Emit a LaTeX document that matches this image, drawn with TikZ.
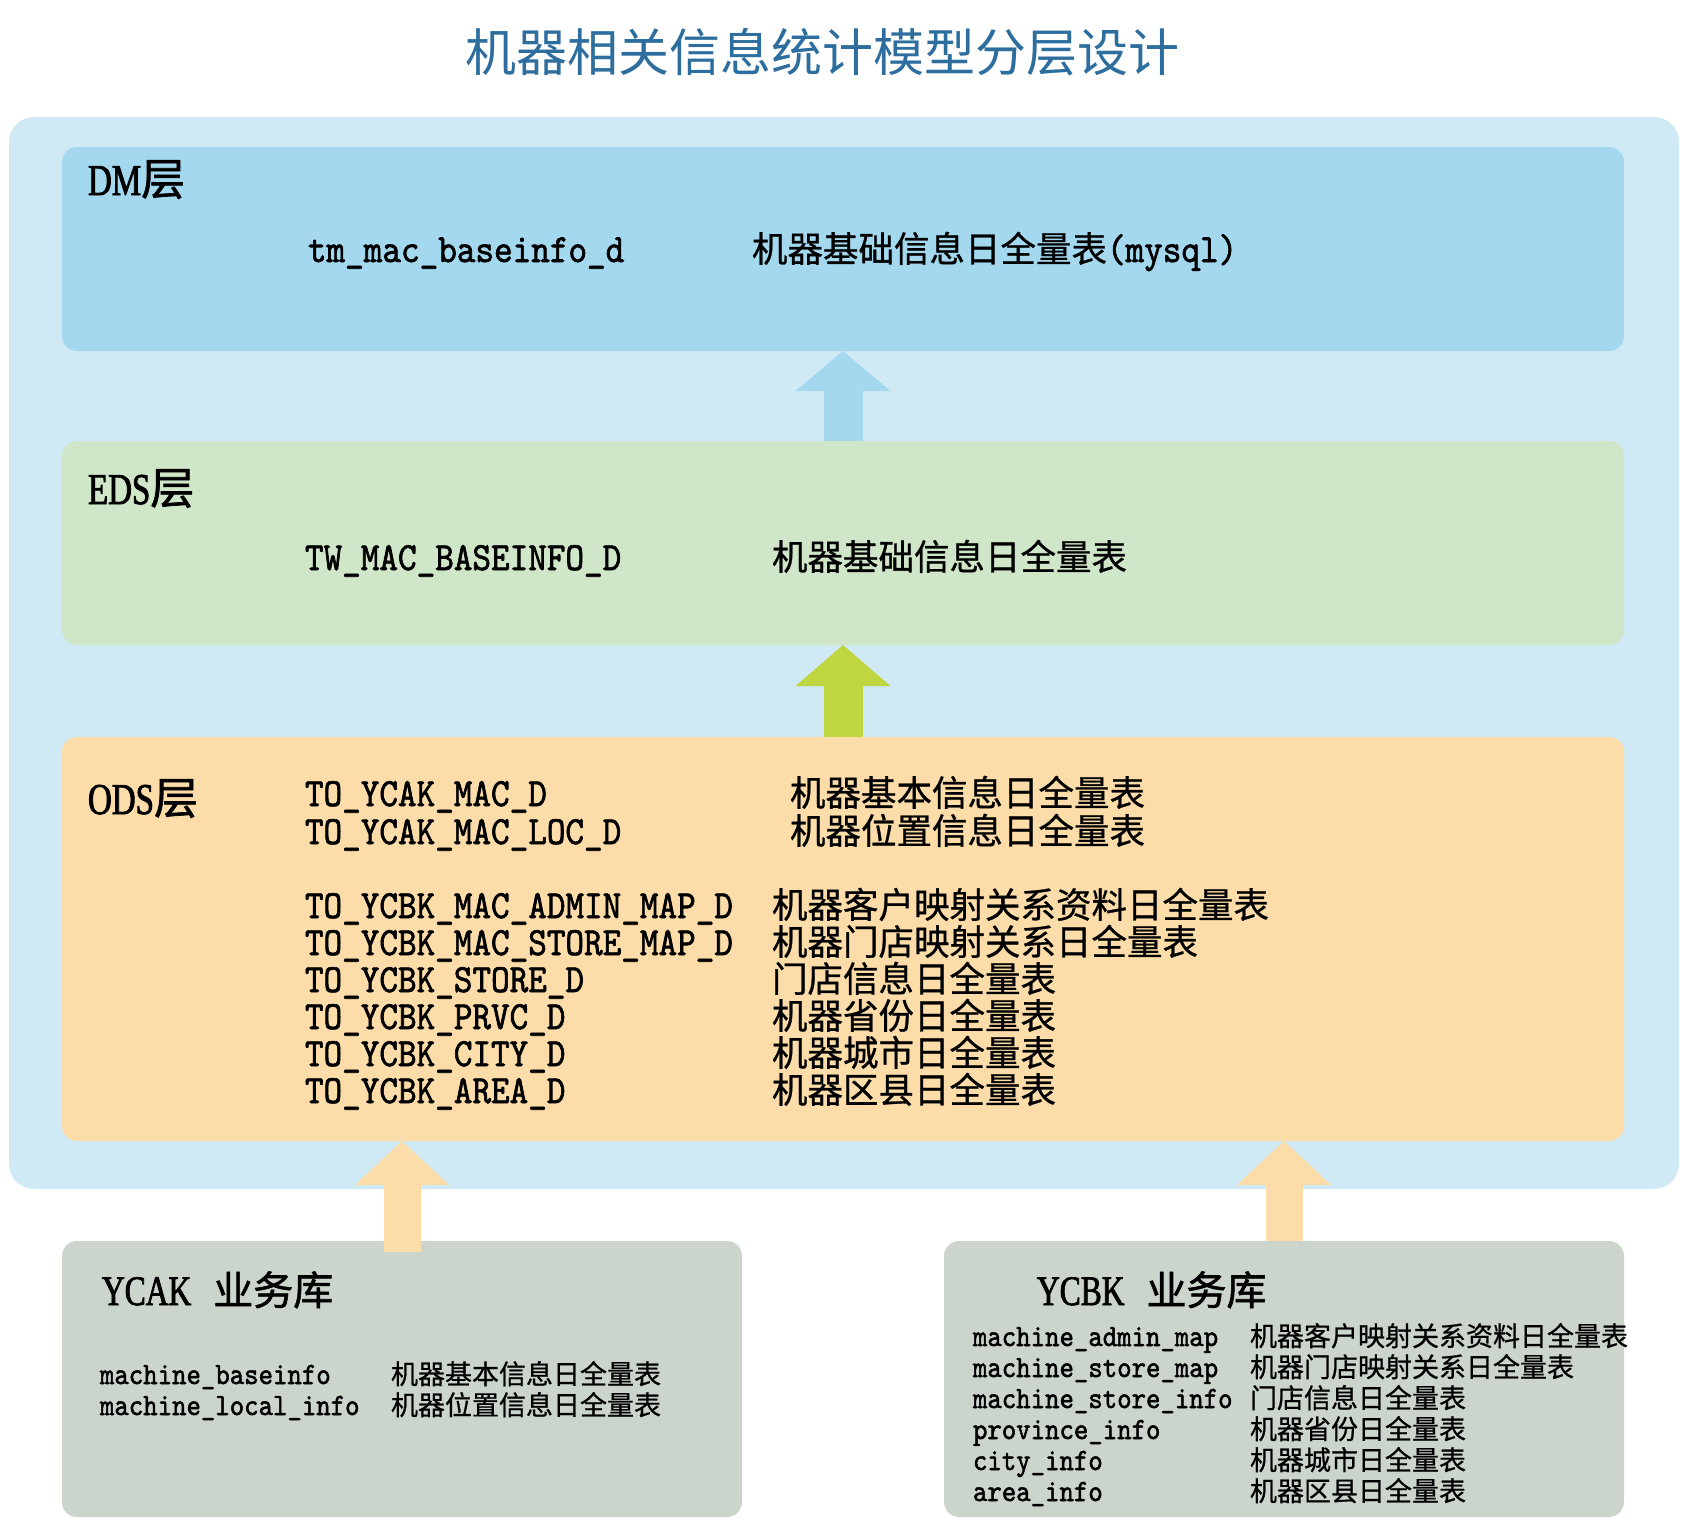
\documentclass[tikz,border=0pt]{standalone}
\usepackage{fontspec}
\usetikzlibrary{arrows.meta}
\newfontfamily\cjk[FakeBold=0.8]{Noto Sans CJK SC}
\newfontfamily\cjkhead[FakeBold=1.5]{Noto Sans CJK SC}
\newfontfamily\cjktitle{Noto Sans CJK SC}
\newfontfamily\monof{lmmono10-regular}[Extension=.otf, FakeStretch=0.886, FakeBold=1.6]
\newfontfamily\serf[FakeStretch=0.75, FakeBold=1.8]{Liberation Serif}
\definecolor{outerbg}{HTML}{D0EAF5}
\definecolor{dmcol}{HTML}{A3D8EF}
\definecolor{edscol}{HTML}{CFE6C8}
\definecolor{odscol}{HTML}{FCDDA9}
\definecolor{srccol}{HTML}{CCD5CC}
\definecolor{greenarr}{HTML}{BFD641}
\definecolor{titlecol}{HTML}{2D6E9E}
\newcommand{\fs}[1]{\fontsize{#1}{#1}\selectfont}
\begin{document}
\begin{tikzpicture}[x=1pt,y=-1pt,
  layerbox/.style={draw=none, rounded corners=15pt, inner sep=0pt, outer sep=0pt},
  txt/.style={anchor=base west, inner sep=0pt, outer sep=0pt},
  bigarrow/.style={line width=39pt, -{Triangle[width=95pt,length=40pt,line width=0pt]}},
  lbl/.style={txt, font=\fs{44}},
  bigname/.style={txt, font=\monof\fs{40}},
  bigcn/.style={txt, font=\cjk\fs{35.5}},
  smallname/.style={txt, font=\monof\fs{31}},
  smallcn/.style={txt, font=\cjk\fs{27}}
]
\useasboundingbox (0,0) rectangle (1690,1524);
% title
\node[font=\cjktitle\fs{51}, text=titlecol, inner sep=0pt] (title) at (822,52) {机器相关信息统计模型分层设计};
% boxes
\node[layerbox, rounded corners=25pt, fill=outerbg, minimum width=1670pt, minimum height=1072pt] (outer) at (844,653) {};
\node[layerbox, fill=dmcol, minimum width=1562pt, minimum height=204pt] (dm) at (843,249) {};
\node[layerbox, fill=edscol, minimum width=1562pt, minimum height=204pt] (eds) at (843,543) {};
\node[layerbox, fill=odscol, minimum width=1562pt, minimum height=404pt] (ods) at (843,939) {};
\node[layerbox, fill=srccol, minimum width=680pt, minimum height=276pt] (ycak) at (402,1379) {};
\node[layerbox, fill=srccol, minimum width=680pt, minimum height=276pt] (ycbk) at (1284,1379) {};
% arrows
\draw[bigarrow, draw=dmcol] (eds.north) -- (dm.south);
\draw[bigarrow, draw=greenarr, -{Triangle[width=95pt,length=41pt,line width=0pt]}] (ods.north) -- (eds.south);
\draw[bigarrow, draw=odscol, line width=37pt, -{Triangle[width=94pt,length=44pt,line width=0pt]}] ([yshift=-11pt]ycak.north) -- (ycak.north |- ods.south);
\draw[bigarrow, draw=odscol, line width=37pt, -{Triangle[width=94pt,length=44pt,line width=0pt]}] (ycbk.north) -- (ycbk.north |- ods.south);
% DM layer
\node[lbl] (dmlabel) at (88,195) {{\serf DM}{\cjkhead 层}};
\node[bigname] (dmn) at (308,262) {tm\_mac\_baseinfo\_d};
\node[bigcn] (dmc) at (752,262) {机器基础信息日全量表{\monof\fs{40}(mysql)}};
% EDS layer
\node[lbl] (edslabel) at (88,504) {{\serf EDS}{\cjkhead 层}};
\node[bigname] (edsn) at (305,570) {TW\_MAC\_BASEINFO\_D};
\node[bigcn] (edsc) at (772,570) {机器基础信息日全量表};
% ODS layer
\node[lbl] (odslabel) at (88,814) {{\serf ODS}{\cjkhead 层}};
\node[bigname] (o1n) at (305,806) {TO\_YCAK\_MAC\_D};
\node[bigcn] (o1c) at (790,806) {机器基本信息日全量表};
\node[bigname] (o2n) at (305,844) {TO\_YCAK\_MAC\_LOC\_D};
\node[bigcn] (o2c) at (790,844) {机器位置信息日全量表};
\node[bigname] (o3n) at (305,918) {TO\_YCBK\_MAC\_ADMIN\_MAP\_D};
\node[bigcn] (o3c) at (772,918) {机器客户映射关系资料日全量表};
\node[bigname] (o4n) at (305,955) {TO\_YCBK\_MAC\_STORE\_MAP\_D};
\node[bigcn] (o4c) at (772,955) {机器门店映射关系日全量表};
\node[bigname] (o5n) at (305,992) {TO\_YCBK\_STORE\_D};
\node[bigcn] (o5c) at (772,992) {门店信息日全量表};
\node[bigname] (o6n) at (305,1029) {TO\_YCBK\_PRVC\_D};
\node[bigcn] (o6c) at (772,1029) {机器省份日全量表};
\node[bigname] (o7n) at (305,1066) {TO\_YCBK\_CITY\_D};
\node[bigcn] (o7c) at (772,1066) {机器城市日全量表};
\node[bigname] (o8n) at (305,1103) {TO\_YCBK\_AREA\_D};
\node[bigcn] (o8c) at (772,1103) {机器区县日全量表};
% YCAK source
\node[txt, font=\fs{42}] (ycaklabel) at (102,1305) {{\serf YCAK}\hspace{22pt}{\cjkhead\fs{40}业务库}};
\node[smallname] (a1n) at (100,1384) {machine\_baseinfo};
\node[smallcn] (a1c) at (391,1384) {机器基本信息日全量表};
\node[smallname] (a2n) at (100,1415) {machine\_local\_info};
\node[smallcn] (a2c) at (391,1415) {机器位置信息日全量表};
% YCBK source
\node[txt, font=\fs{42}] (ycbklabel) at (1037,1305) {{\serf YCBK}\hspace{22pt}{\cjkhead\fs{40}业务库}};
\node[smallname] (b1n) at (973,1346) {machine\_admin\_map};
\node[smallcn] (b1c) at (1250,1346) {机器客户映射关系资料日全量表};
\node[smallname] (b2n) at (973,1377) {machine\_store\_map};
\node[smallcn] (b2c) at (1250,1377) {机器门店映射关系日全量表};
\node[smallname] (b3n) at (973,1408) {machine\_store\_info};
\node[smallcn] (b3c) at (1250,1408) {门店信息日全量表};
\node[smallname] (b4n) at (973,1439) {province\_info};
\node[smallcn] (b4c) at (1250,1439) {机器省份日全量表};
\node[smallname] (b5n) at (973,1470) {city\_info};
\node[smallcn] (b5c) at (1250,1470) {机器城市日全量表};
\node[smallname] (b6n) at (973,1501) {area\_info};
\node[smallcn] (b6c) at (1250,1501) {机器区县日全量表};
\end{tikzpicture}
\end{document}
